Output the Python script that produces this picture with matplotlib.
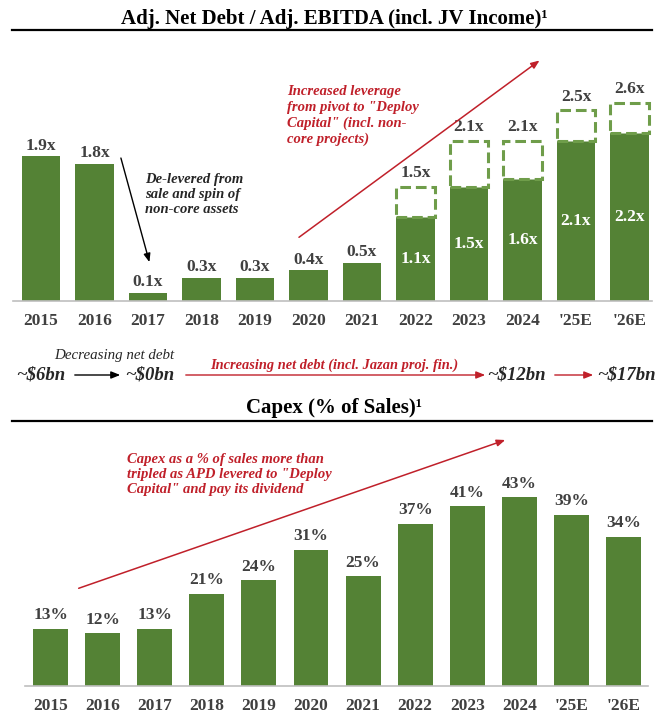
import numpy as np
import matplotlib
matplotlib.use('Agg')
import matplotlib.pyplot as plt
from matplotlib.lines import Line2D

plt.rcParams['font.family'] = ['Liberation Serif', 'DejaVu Serif']

years = ['2015', '2016', '2017', '2018', '2019', '2020', '2021', '2022', '2023', '2024', "'25E", "'26E"]
# reported leverage (solid bars) and leverage incl. non-core project debt (dashed boxes)
leverage = [1.9, 1.8, 0.1, 0.3, 0.3, 0.4, 0.5, 1.1, 1.5, 1.6, 2.1, 2.2]
leverage_incl = [np.nan] * 7 + [1.5, 2.1, 2.1, 2.5, 2.6]
capex_pct = [13, 12, 13, 21, 24, 31, 25, 37, 41, 43, 39, 34]

GREEN = '#548235'
BOX = '#6f9d4a'
RED = '#c0202a'
DARK = '#404040'

W, H = 664, 717
fig = plt.figure(figsize=(W / 100, H / 100), dpi=100)


def fx(px):
    return px / W


def fy(py):
    return 1 - py / H


def title_block(text, y_text, y_line):
    fig.text(fx(334), fy(y_text), text, ha='center', va='center',
             fontsize=15, fontweight='bold', color='black')
    fig.add_artist(Line2D([fx(12), fx(652)], [fy(y_line), fy(y_line)],
                          color='black', lw=1.6, transform=fig.transFigure))


def style_axis(ax):
    for s in ['top', 'right', 'left']:
        ax.spines[s].set_visible(False)
    ax.spines['bottom'].set_color('#bfbfbf')
    ax.spines['bottom'].set_linewidth(1.2)
    ax.set_yticks([])
    ax.set_xticks(range(len(years)))
    ax.set_xticklabels(years, fontsize=12.5, fontweight='bold', color=DARK)
    ax.tick_params(axis='x', length=0, pad=9)


# ---- top chart: leverage
title_block('Adj. Net Debt / Adj. EBITDA (incl. JV Income)\u00b9', 19, 30)

ax1 = fig.add_axes([fx(13), fy(300.5), fx(652) - fx(13), (300.5 - 40) / H])
ax1.set_xlim(-0.523, 11.42)
ax1.set_ylim(0, (300.5 - 40) / 76)
x = np.arange(len(years))
ax1.bar(x, leverage, width=0.72, color=GREEN, zorder=2)
incl = np.array(leverage_incl)
lev = np.array(leverage)
has_box = ~np.isnan(incl)
ax1.bar(x[has_box], incl[has_box] - lev[has_box], bottom=lev[has_box], width=0.72,
        facecolor='white', edgecolor=BOX, linestyle=(0, (3.5, 1.6)), linewidth=2.2, zorder=3)
style_axis(ax1)

for i in range(len(years)):
    if has_box[i]:
        ax1.annotate(f'{incl[i]:.1f}x', (x[i], incl[i]), xytext=(0, 10), textcoords='offset points',
                     ha='center', va='center', fontsize=12.5, fontweight='bold', color=DARK)
        ax1.text(x[i], lev[i] / 2, f'{lev[i]:.1f}x', ha='center', va='center',
                 fontsize=12.5, fontweight='bold', color='white', zorder=4)
    else:
        ax1.annotate(f'{lev[i]:.1f}x', (x[i], lev[i]), xytext=(0, 7.5), textcoords='offset points',
                     ha='center', va='center', fontsize=12.5, fontweight='bold', color=DARK)

ax1.annotate('', xy=(2.04, 0.47), xytext=(1.48, 1.91),
             arrowprops=dict(arrowstyle='-|>,head_length=0.5,head_width=0.2', color='black', lw=1))
ax1.text(1.94, 1.68, 'De-levered from\nsale and spin of\nnon-core assets', ha='left', va='top',
         fontsize=10.5, fontstyle='italic', fontweight='bold', color='#262626', linespacing=1.2)

ax1.annotate('', xy=(9.36, 3.18), xytext=(4.78, 0.81),
             arrowprops=dict(arrowstyle='-|>,head_length=0.5,head_width=0.2', color=RED, lw=1.1))
ax1.text(4.6, 2.83, 'Increased leverage\nfrom pivot to "Deploy\nCapital" (incl. non-\ncore projects)',
         ha='left', va='top', fontsize=10.5, fontstyle='italic', fontweight='bold', color=RED,
         linespacing=1.25)

# ---- middle row: net debt path
row_y = 375
for label, cx in [('~$6bn', 41), ('~$0bn', 150), ('~$12bn', 516), ('~$17bn', 626)]:
    fig.text(fx(cx), fy(row_y), label, ha='center', va='center', fontsize=13.5,
             fontstyle='italic', fontweight='bold', color='#262626')


def row_arrow(x0, x1, color):
    fig.add_artist(matplotlib.patches.FancyArrowPatch(
        (fx(x0), fy(row_y)), (fx(x1), fy(row_y)), transform=fig.transFigure,
        arrowstyle='-|>,head_length=0.45,head_width=0.18', color=color, lw=1, mutation_scale=12))


row_arrow(72, 123, 'black')
row_arrow(183, 488, RED)
row_arrow(552, 596, RED)
fig.text(fx(114), fy(356), 'Decreasing net debt', ha='center', va='center', fontsize=10.8,
         fontstyle='italic', color='#262626')
fig.text(fx(334), fy(365), 'Increasing net debt (incl. Jazan proj. fin.)', ha='center', va='center',
         fontsize=10.4, fontstyle='italic', fontweight='bold', color=RED)

# ---- bottom chart: capex
title_block('Capex (% of Sales)\u00b9', 408, 421)

ax2 = fig.add_axes([fx(25), fy(685.5), (648 - 25) / W, (685.5 - 430) / H])
ax2.set_xlim(-0.49, 11.47)
ax2.set_ylim(0, (685.5 - 430) / 4.377)
ax2.bar(x, capex_pct, width=0.67, color=GREEN, zorder=2)
style_axis(ax2)
for i, v in enumerate(capex_pct):
    ax2.annotate(f'{v}%', (x[i], v), xytext=(0, 9.7), textcoords='offset points',
                 ha='center', va='center', fontsize=12.5, fontweight='bold', color=DARK)

ax2.annotate('', xy=(8.78, 56.3), xytext=(0.49, 22.0),
             arrowprops=dict(arrowstyle='-|>,head_length=0.5,head_width=0.2', color=RED, lw=1.1))
ax2.text(1.47, 53.1, 'Capex as a % of sales more than\ntripled as APD levered to "Deploy\nCapital" and pay its dividend',
         ha='left', va='top', fontsize=10.5, fontstyle='italic', fontweight='bold', color=RED,
         linespacing=1.2)

fig.savefig('out.png', dpi=100, facecolor='white')
